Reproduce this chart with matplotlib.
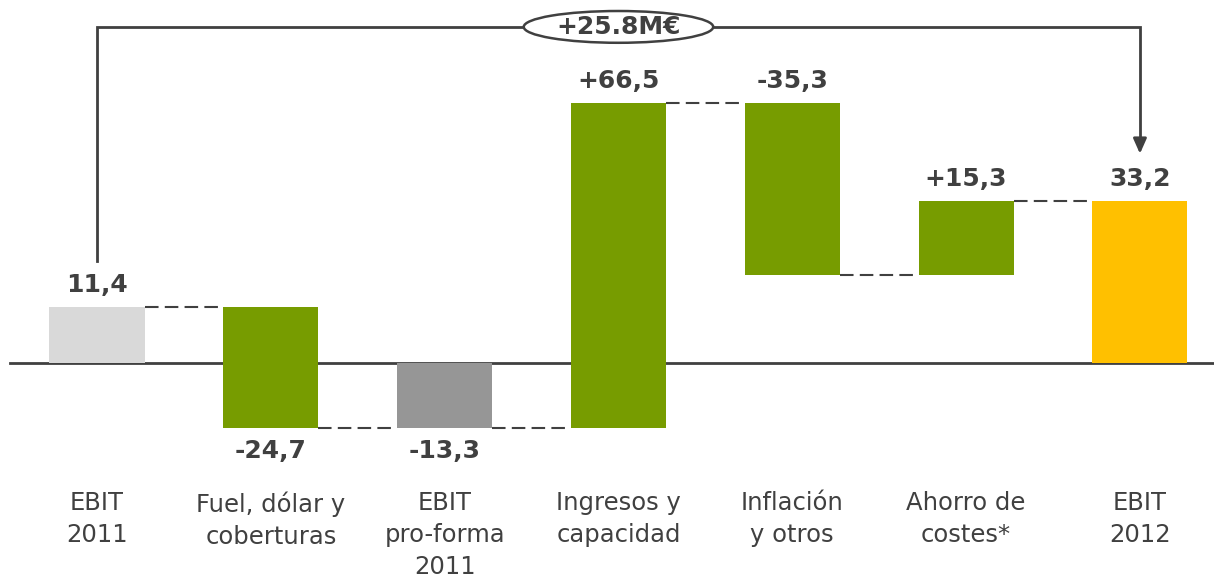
import matplotlib
matplotlib.use("Agg")
import matplotlib.pyplot as plt
from matplotlib.patches import Ellipse

# EBIT bridge 2011 -> 2012 (M€)
categories = ["EBIT\n2011", "Fuel, dólar y\ncoberturas", "EBIT\npro-forma\n2011",
              "Ingresos y\ncapacidad", "Inflación\ny otros", "Ahorro de\ncostes*", "EBIT\n2012"]
values = [11.4, -24.7, -13.3, 66.5, -35.3, 15.3, 33.2]
kinds = ["total", "delta", "total", "delta", "delta", "delta", "total"]
value_labels = ["11,4", "-24,7", "-13,3", "+66,5", "-35,3", "+15,3", "33,2"]
label_above = [True, False, False, True, True, True, True]
total_change = "+25.8M€"

green = "#779C00"
colors = ["#D9D9D9", green, "#969696", green, green, green, "#FFC000"]
dark = "#404040"

# bottoms / tops of each floating bar, and running level after each bar
bottoms, tops, ends = [], [], []
level = 0
for v, k in zip(values, kinds):
    if k == "total":
        start, level = 0, v
    else:
        start, level = level, level + v
    bottoms.append(min(start, level))
    tops.append(max(start, level))
    ends.append(level)

fig = plt.figure(figsize=(12.14, 5.8), dpi=100)
ax = fig.add_axes([0, 0, 1, 1])
x = list(range(len(values)))
width = 0.547

ax.axhline(0, xmin=0.008, xmax=1, color=dark, lw=2, zorder=1)
ax.bar(x, [t - b for t, b in zip(tops, bottoms)], bottom=bottoms, width=width,
       color=colors, zorder=2)

# dashed connectors
for i in range(len(values) - 1):
    ax.plot([x[i] + width / 2, x[i + 1] - width / 2], [ends[i], ends[i]],
            color=dark, lw=1.5, dashes=(6.5, 3), zorder=1)

# value labels
for i, lab in enumerate(value_labels):
    if label_above[i]:
        ax.annotate(lab, (x[i], tops[i]), xytext=(0, 7), textcoords="offset points",
                    ha="center", va="bottom", fontsize=18, fontweight="bold", color=dark)
    else:
        ax.annotate(lab, (x[i], bottoms[i]), xytext=(0, -8), textcoords="offset points",
                    ha="center", va="top", fontsize=18, fontweight="bold", color=dark)

# category labels
for i, c in enumerate(categories):
    ax.text(x[i], -26.3, c, ha="center", va="top", fontsize=17.5, color=dark,
            linespacing=1.4)

# bracket with arrow from EBIT 2011 to EBIT 2012
top_y = 68.7
ax.plot([x[0], x[0], x[-1], x[-1]], [tops[0] + 9.5, top_y, top_y, tops[-1] + 12],
        color=dark, lw=2, zorder=3, solid_joinstyle="miter")
ax.annotate("", xy=(x[-1], tops[-1] + 9), xytext=(x[-1], tops[-1] + 13),
            arrowprops=dict(arrowstyle="-|>,head_width=0.4,head_length=0.9",
                            color=dark, lw=2), zorder=3)
ax.add_patch(Ellipse((x[3], top_y), 1.09, 6.5, facecolor="white", edgecolor=dark,
                     lw=1.8, zorder=4))
ax.text(x[3], top_y, total_change, ha="center", va="center", fontsize=18,
        fontweight="bold", color=dark, zorder=5)

ax.set_xlim(-0.558, 6.426)
ax.set_ylim(-44.4, 74.2)
ax.axis("off")

fig.savefig("out.png", dpi=100, facecolor="white")
